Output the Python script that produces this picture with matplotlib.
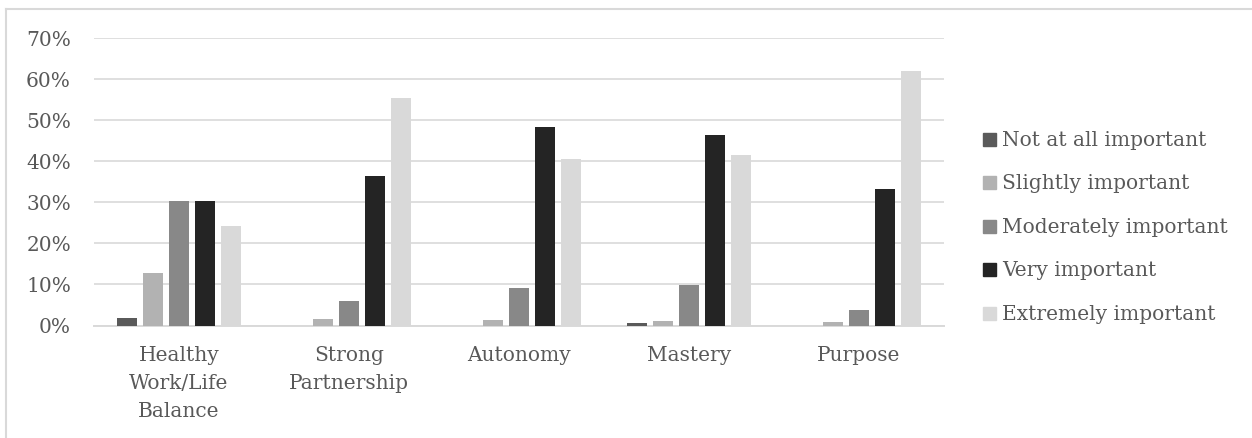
import numpy as np
import matplotlib.pyplot as plt
from matplotlib.lines import Line2D
from matplotlib.patches import Rectangle

plt.rcParams['font.family'] = ['DejaVu Serif']

categories = ['Healthy\nWork/Life\nBalance', 'Strong\nPartnership', 'Autonomy', 'Mastery', 'Purpose']
series = ['Not at all important', 'Slightly important', 'Moderately important',
          'Very important', 'Extremely important']
not_at_all = [0.018, 0.0, 0.0, 0.005, 0.0]
slightly = [0.127, 0.017, 0.014, 0.011, 0.008]
moderately = [0.303, 0.059, 0.091, 0.098, 0.037]
very = [0.303, 0.365, 0.484, 0.464, 0.332]
extremely = [0.242, 0.554, 0.406, 0.415, 0.619]
colors = ['#5a5a5a', '#b2b2b2', '#888888', '#242424', '#d9d9d9']
yticks = [0, 0.1, 0.2, 0.3, 0.4, 0.5, 0.6, 0.7]

W, H = 1252, 438
fig = plt.figure(figsize=(W / 100, H / 100), dpi=100)
ax = fig.add_axes([94 / W, 1 - 325.5 / H, 850 / W, 287.5 / H])

text_color = '#595959'
grid_color = '#d9d9d9'
fsize = 14.5

x = np.arange(len(categories))
step = 0.153
width = 0.12
values = [not_at_all, slightly, moderately, very, extremely]
for i, (name, vals) in enumerate(zip(series, values)):
    ax.bar(x + (i - 2) * step, vals, width=width, color=colors[i], label=name, zorder=3)

ax.set_xlim(-0.5, len(categories) - 0.5)
ax.set_ylim(0, 0.7)
ax.set_yticks(yticks)
ax.set_yticklabels([f'{int(round(t * 100))}%' for t in yticks])
ax.set_xticks(x)
ax.set_xticklabels(categories, linespacing=1.6)
ax.tick_params(axis='both', length=0, labelsize=fsize, colors=text_color)
ax.tick_params(axis='y', pad=16.6)
ax.tick_params(axis='x', pad=15)
ax.yaxis.grid(True, color=grid_color, linewidth=1.2, zorder=0)
for s in ['top', 'right', 'left']:
    ax.spines[s].set_visible(False)
ax.spines['bottom'].set_color(grid_color)
ax.spines['bottom'].set_linewidth(1.4)

# legend drawn by hand so the rows sit where they do in the original
for i, name in enumerate(series):
    yc = 139.5 + i * 43.4
    fig.add_artist(Rectangle((983 / W, 1 - (yc + 6.5) / H), 13 / W, 13 / H,
                             color=colors[i], transform=fig.transFigure))
    fig.text(1002 / W, 1 - (yc + 1) / H, name, fontsize=fsize, color=text_color,
             va='center', ha='left')

# outer chart border (top and left only visible)
fig.add_artist(Line2D([6 / W, 6 / W], [0, 1 - 8.5 / H], color=grid_color, lw=1.5,
                      transform=fig.transFigure))
fig.add_artist(Line2D([6 / W, 1], [1 - 8.5 / H, 1 - 8.5 / H], color=grid_color, lw=1.5,
                      transform=fig.transFigure))

fig.savefig('out.png', dpi=100)
